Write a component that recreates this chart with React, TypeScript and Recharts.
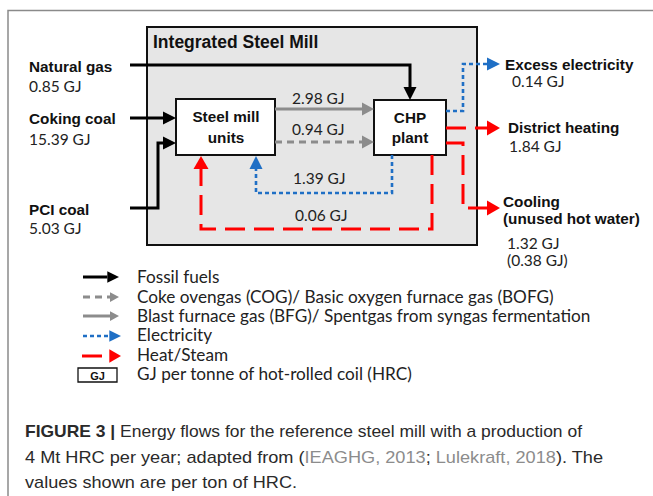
import React from "react"
import { ComposedChart, XAxis, YAxis, Line, Scatter, ReferenceArea } from "recharts"

// ---- values (GJ per tonne HRC) ----
const inputNames = ["Natural gas", "Coking coal", "PCI coal"]
const inputGJ = [0.85, 15.39, 5.03]
// BFG, COG/BOFG, electricity back to mill, heat back to mill
const internalGJ = [2.98, 0.94, 1.39, 0.06]
const outputNames = ["Excess electricity", "District heating", "Cooling"]
const outputGJ = [0.14, 1.84, 1.32]
const coolingUnusedGJ = 0.38
const unitNames = [["Steel mill", "units"], ["CHP", "plant"]]
const millTitle = "Integrated Steel Mill"
const legendLabels = [
  "Fossil fuels",
  "Coke ovengas (COG)/ Basic oxygen furnace gas (BOFG)",
  "Blast furnace gas (BFG)/ Spentgas from syngas fermentation",
  "Electricity",
  "Heat/Steam",
  "GJ per tonne of hot-rolled coil (HRC)",
]
const captionRefs = ["IEAGHG, 2013", "Lulekraft, 2018"]

const W = 653
const H = 496

type Pt = [number, number]
type StyleKey = "fossil" | "bfg" | "cog" | "elec" | "heat" | "frame"

const flowStyles: Record<StyleKey, { stroke: string; width: number; dash?: string; head: [number, number] }> = {
  fossil: { stroke: "#000000", width: 3, head: [13, 13] },
  bfg: { stroke: "#8c8c8c", width: 3, head: [12, 13] },
  cog: { stroke: "#8c8c8c", width: 3, dash: "7 5", head: [12, 13] },
  elec: { stroke: "#1f6fc5", width: 2.6, dash: "4 3", head: [13, 13] },
  heat: { stroke: "#ff0000", width: 3, dash: "20 9", head: [13, 15] },
  frame: { stroke: "#8a8a8a", width: 1.5, head: [0, 0] },
}

// layout of the diagram, in chart units (1 unit = 1 px)
const flowPaths: { style: StyleKey; pts: Pt[]; scale?: number }[] = [
  { style: "fossil", pts: [[130, 65], [410, 65], [410, 100]] },
  { style: "fossil", pts: [[130, 118], [176, 118]] },
  { style: "fossil", pts: [[130, 208], [158, 208], [158, 143], [176, 143]] },
  { style: "bfg", pts: [[275, 109], [374, 109]] },
  { style: "cog", pts: [[275, 142], [374, 142]] },
  { style: "elec", pts: [[392, 155], [392, 193], [256, 193], [256, 156]] },
  { style: "heat", pts: [[432, 155], [432, 229], [201, 229], [201, 156]] },
  { style: "elec", pts: [[446, 111], [463, 111], [463, 64], [500, 64]] },
  { style: "heat", pts: [[446, 128], [500, 128]] },
  { style: "heat", pts: [[446, 143], [463, 143], [463, 208], [500, 208]] },
  // legend keys
  { style: "fossil", pts: [[83, 277], [119, 277]], scale: 0.9 },
  { style: "cog", pts: [[83, 297], [119, 297]], scale: 0.75 },
  { style: "bfg", pts: [[83, 316], [119, 316]], scale: 0.75 },
  { style: "elec", pts: [[83, 336], [121, 336]], scale: 0.9 },
  { style: "heat", pts: [[82, 356], [121, 356]], scale: 0.9 },
]

const framePts: Pt[] = [[8, H], [8, 10.5], [W, 10.5]]

const boxes = [
  { id: "mill", x1: 147, x2: 477, y1: 27, y2: 245, fill: "#e6e6e6", sw: 2 },
  { id: "units", x1: 176, x2: 275, y1: 99, y2: 155, fill: "#ffffff", sw: 2 },
  { id: "chp", x1: 374, x2: 446, y1: 100, y2: 155, fill: "#ffffff", sw: 2 },
  { id: "gjkey", x1: 78, x2: 117, y1: 368, y2: 382, fill: "#ffffff", sw: 1.3 },
]

const fmt = (v: number) => `${v.toFixed(2)} GJ`

type Label = {
  x: number
  y: number
  kind: "title" | "bold" | "num" | "legend" | "key" | "caption"
  text?: string
  anchor?: "start" | "middle"
  parts?: { t: string; b?: boolean; ref?: boolean }[]
  len?: number
}

const inputPos = [[29, 72, 92], [29, 124, 145], [29, 215, 234]]
const internalPos = [[292, 104], [292, 135], [293, 184], [295, 221]]
const outputPos = [[505, 70, 512, 87], [508, 133, 509, 152], [503, 207, 507, 249]]
const unitPos = [[226, 122, 143], [410, 123, 143]]
const legendY = [283, 303, 322, 341, 361, 380]

const labels: Label[] = [
  { x: 153, y: 48, kind: "title", text: millTitle },
  ...unitNames.flatMap((n, i) => [
    { x: unitPos[i][0], y: unitPos[i][1], kind: "bold" as const, text: n[0], anchor: "middle" as const },
    { x: unitPos[i][0], y: unitPos[i][2], kind: "bold" as const, text: n[1], anchor: "middle" as const },
  ]),
  ...inputNames.flatMap((n, i) => [
    { x: inputPos[i][0], y: inputPos[i][1], kind: "bold" as const, text: n },
    { x: inputPos[i][0], y: inputPos[i][2], kind: "num" as const, text: fmt(inputGJ[i]) },
  ]),
  ...internalGJ.map((v, i) => ({ x: internalPos[i][0], y: internalPos[i][1], kind: "num" as const, text: fmt(v) })),
  ...outputNames.flatMap((n, i) => [
    { x: outputPos[i][0], y: outputPos[i][1], kind: "bold" as const, text: n },
    { x: outputPos[i][2], y: outputPos[i][3], kind: "num" as const, text: fmt(outputGJ[i]) },
  ]),
  { x: 503, y: 224, kind: "bold", text: "(unused hot water)" },
  { x: 507, y: 266, kind: "num", text: `(${fmt(coolingUnusedGJ)})` },
  ...legendLabels.map((t, i) => ({ x: 137, y: legendY[i], kind: "legend" as const, text: t })),
  { x: 97.5, y: 379.5, kind: "key", text: "GJ", anchor: "middle" },
  {
    x: 25, y: 437, kind: "caption", len: 557,
    parts: [{ t: "FIGURE 3 | ", b: true }, { t: "Energy flows for the reference steel mill with a production of" }],
  },
  {
    x: 25, y: 463, kind: "caption", len: 578,
    parts: [
      { t: "4 Mt HRC per year; adapted from (" },
      { t: captionRefs[0], ref: true },
      { t: "; " },
      { t: captionRefs[1], ref: true },
      { t: "). The" },
    ],
  },
  { x: 25, y: 488, kind: "caption", len: 272, parts: [{ t: "values shown are per ton of HRC." }] },
]

const kindStyle: Record<Label["kind"], React.SVGProps<SVGTextElement>> = {
  title: { fontFamily: "'Liberation Sans', Arial, sans-serif", fontWeight: 700, fontSize: 17.5, fill: "#111" },
  bold: { fontFamily: "'Liberation Sans', Arial, sans-serif", fontWeight: 700, fontSize: 15.3, fill: "#111" },
  num: { fontFamily: "Lato, 'Open Sans', sans-serif", fontSize: 15.5, fill: "#222" },
  legend: { fontFamily: "Lato, 'Open Sans', sans-serif", fontSize: 17.2, fill: "#222" },
  key: { fontFamily: "'Liberation Sans', Arial, sans-serif", fontWeight: 700, fontSize: 11, fill: "#111" },
  caption: { fontFamily: "'Liberation Sans Narrow', 'Arial Narrow', 'Liberation Sans', sans-serif", fontSize: 17, fill: "#2a2a2a" },
}

// split each path into a line that stops at the arrow base, plus the arrow head
function buildFlow(pts: Pt[], style: StyleKey, scale = 1) {
  const st = flowStyles[style]
  const len = st.head[0] * scale
  const wid = st.head[1] * scale
  const n = pts.length
  const [lx, ly] = pts[n - 1]
  const [px, py] = pts[n - 2]
  const dx = Math.sign(lx - px)
  const dy = Math.sign(ly - py)
  const line = pts.slice(0, n - 1).map(([x, y]) => ({ x, y }))
  line.push({ x: lx - dx * len, y: ly - dy * len })
  const dir = dx > 0 ? 0 : dx < 0 ? 180 : dy > 0 ? 90 : 270
  return { line, arrow: { x: lx, y: ly, dir, len, wid, color: st.stroke } }
}

const flows = flowPaths.map((f) => ({ style: f.style, ...buildFlow(f.pts, f.style, f.scale) }))
const arrows = flows.map((f) => f.arrow)

const renderArrow = (p: any) => {
  const { cx, cy, payload } = p
  const { len, wid, dir, color } = payload
  return (
    <polygon
      points={`0,0 ${-len},${-wid / 2} ${-len},${wid / 2}`}
      transform={`translate(${cx},${cy}) rotate(${dir})`}
      fill={color}
    />
  )
}

const renderLabel = (p: any) => {
  const { cx, cy, payload } = p
  const l = payload as Label
  const st = kindStyle[l.kind]
  if (l.parts) {
    return (
      <text x={cx} y={cy} {...st} textLength={l.len} lengthAdjust="spacingAndGlyphs">
        {l.parts.map((pt, i) => (
          <tspan key={i} fontWeight={pt.b ? 700 : 400} fill={pt.ref ? "#8c8c8c" : undefined}>
            {pt.t}
          </tspan>
        ))}
      </text>
    )
  }
  return (
    <text x={cx} y={cy} {...st} textAnchor={l.anchor ?? "start"}>
      {l.text}
    </text>
  )
}

export default function App() {
  return (
    <div style={{ position: "absolute", left: 0, top: 0, width: W, height: H, background: "#fff" }}>
      <ComposedChart width={W} height={H} margin={{ top: 0, right: 0, bottom: 0, left: 0 }}>
        <XAxis hide type="number" dataKey="x" domain={[0, W]} allowDataOverflow />
        <YAxis hide type="number" dataKey="y" domain={[0, H]} reversed allowDataOverflow />
        {boxes.map((b) => (
          <ReferenceArea
            key={b.id}
            x1={b.x1}
            x2={b.x2}
            y1={b.y1}
            y2={b.y2}
            fill={b.fill}
            fillOpacity={1}
            stroke="#111"
            strokeWidth={b.sw}
            ifOverflow="visible"
          />
        ))}
        <Line
          data={framePts.map(([x, y]) => ({ x, y }))}
          dataKey="y"
          stroke={flowStyles.frame.stroke}
          strokeWidth={flowStyles.frame.width}
          dot={false}
          activeDot={false}
          isAnimationActive={false}
        />
        {flows.map((f, i) => (
          <Line
            key={`flow-${i}`}
            data={f.line}
            dataKey="y"
            type="linear"
            stroke={flowStyles[f.style].stroke}
            strokeWidth={flowStyles[f.style].width}
            strokeDasharray={flowStyles[f.style].dash}
            dot={false}
            activeDot={false}
            isAnimationActive={false}
          />
        ))}
        <Scatter data={arrows} dataKey="y" shape={renderArrow} isAnimationActive={false} />
        <Scatter data={labels} dataKey="y" shape={renderLabel} isAnimationActive={false} />
      </ComposedChart>
    </div>
  )
}
